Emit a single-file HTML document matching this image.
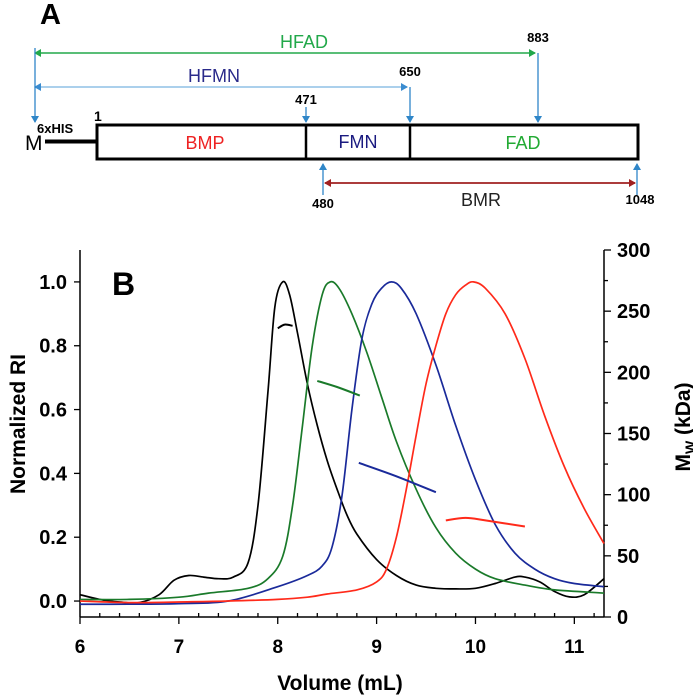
<!DOCTYPE html>
<html><head><meta charset="utf-8"><style>
html,body{margin:0;padding:0;background:#fff;width:693px;height:696px;overflow:hidden}
svg{display:block;font-family:"Liberation Sans",Arial,sans-serif}
</style></head><body>
<svg id="fig" width="693" height="696" viewBox="0 0 693 696">
<defs>
<marker id="ab" markerWidth="8" markerHeight="8" refX="6" refY="4" orient="auto" markerUnits="userSpaceOnUse"><path d="M0,0 L7,4 L0,8 z" fill="#2f86c8"/></marker>
<marker id="ag" markerWidth="8" markerHeight="8" refX="6" refY="4" orient="auto-start-reverse" markerUnits="userSpaceOnUse"><path d="M0,0 L7,4 L0,8 z" fill="#22a84a"/></marker>
<marker id="al" markerWidth="8" markerHeight="8" refX="6" refY="4" orient="auto-start-reverse" markerUnits="userSpaceOnUse"><path d="M0,0 L7,4 L0,8 z" fill="#3a8cd0"/></marker>
<marker id="ar" markerWidth="8" markerHeight="8" refX="6" refY="4" orient="auto-start-reverse" markerUnits="userSpaceOnUse"><path d="M0,0 L7,4 L0,8 z" fill="#a02020"/></marker>
</defs>
<g>
<text x="40" y="24" font-size="29" font-weight="bold">A</text>
<line x1="35" y1="53" x2="535" y2="53" stroke="#22a84a" stroke-width="1.5" marker-start="url(#ag)" marker-end="url(#ag)"/>
<text x="304" y="48" font-size="18" fill="#22a84a" text-anchor="middle">HFAD</text>
<text x="538" y="42" font-size="13" font-weight="bold" text-anchor="middle">883</text>
<line x1="35" y1="87" x2="407" y2="87" stroke="#8fc0e6" stroke-width="1.5" marker-start="url(#al)" marker-end="url(#al)"/>
<text x="214" y="82" font-size="18" fill="#2a2a8a" text-anchor="middle">HFMN</text>
<text x="410" y="76" font-size="13" font-weight="bold" text-anchor="middle">650</text>
<line x1="35" y1="48" x2="35" y2="122" stroke="#2f86c8" stroke-width="1.3" marker-end="url(#ab)"/>
<line x1="538" y1="53" x2="538" y2="122" stroke="#2f86c8" stroke-width="1.3" marker-end="url(#ab)"/>
<line x1="410" y1="87" x2="410" y2="122" stroke="#2f86c8" stroke-width="1.3" marker-end="url(#ab)"/>
<line x1="306" y1="107" x2="306" y2="122" stroke="#2f86c8" stroke-width="1.3" marker-end="url(#ab)"/>
<text x="306" y="104" font-size="13" font-weight="bold" text-anchor="middle">471</text>
<text x="25" y="150" font-size="21">M</text>
<line x1="45" y1="141.5" x2="97" y2="141.5" stroke="#000" stroke-width="4"/>
<text x="37" y="133" font-size="13" font-weight="bold">6xHIS</text>
<text x="94" y="121" font-size="14" font-weight="bold">1</text>
<rect x="97" y="125" width="541" height="34" fill="#fff" stroke="#000" stroke-width="3"/>
<line x1="306" y1="125" x2="306" y2="159" stroke="#000" stroke-width="2.5"/>
<line x1="410" y1="125" x2="410" y2="159" stroke="#000" stroke-width="2.5"/>
<text x="205" y="149" font-size="18" fill="#ee2222" text-anchor="middle">BMP</text>
<text x="358" y="148" font-size="18" fill="#1a1a80" text-anchor="middle">FMN</text>
<text x="523" y="149" font-size="18" fill="#22aa33" text-anchor="middle">FAD</text>
<line x1="323" y1="195" x2="323" y2="164" stroke="#2f86c8" stroke-width="1.3" marker-end="url(#ab)"/>
<line x1="637" y1="195" x2="637" y2="164" stroke="#2f86c8" stroke-width="1.3" marker-end="url(#ab)"/>
<line x1="325" y1="183" x2="635" y2="183" stroke="#a02020" stroke-width="1.8" marker-start="url(#ar)" marker-end="url(#ar)"/>
<text x="323" y="208" font-size="13" font-weight="bold" text-anchor="middle">480</text>
<text x="481" y="206" font-size="18" fill="#222" text-anchor="middle">BMR</text>
<text x="640" y="204" font-size="13" font-weight="bold" text-anchor="middle">1048</text>
</g>
<g id="chart"></g>
</svg>
<script>
const vols = [6,6.2,6.4,6.6,6.8,6.95,7.1,7.25,7.4,7.55,7.7,7.8,7.9,7.97,8.05,8.12,8.2,8.3,8.4,8.5,8.6,8.7,8.8,9.0,9.2,9.4,9.6,9.8,10.0,10.2,10.4,10.5,10.65,10.8,10.95,11.1,11.3];
const blackRI = [0.02,0.005,-0.003,-0.005,0.02,0.065,0.08,0.075,0.07,0.075,0.12,0.3,0.65,0.92,1.0,0.96,0.84,0.68,0.55,0.44,0.35,0.27,0.21,0.13,0.08,0.05,0.04,0.038,0.04,0.055,0.075,0.075,0.06,0.03,0.013,0.02,0.07];
const greenVols = [6,6.5,7,7.3,7.7,7.9,8.05,8.15,8.25,8.35,8.45,8.53,8.62,8.75,8.9,9.05,9.2,9.4,9.6,9.8,10.0,10.2,10.5,10.8,11.3];
const greenRI = [0.005,0.005,0.012,0.025,0.04,0.07,0.14,0.3,0.55,0.8,0.96,1.0,0.98,0.9,0.78,0.64,0.5,0.35,0.23,0.15,0.1,0.07,0.05,0.035,0.025];
const blueVols = [6,6.5,7,7.5,8.0,8.3,8.45,8.55,8.65,8.75,8.85,8.95,9.05,9.15,9.25,9.4,9.6,9.8,10.0,10.2,10.4,10.6,10.8,11.0,11.3];
const blueRI = [-0.01,-0.01,-0.008,0.0,0.045,0.08,0.11,0.17,0.33,0.6,0.82,0.93,0.98,1.0,0.98,0.9,0.74,0.55,0.38,0.24,0.15,0.1,0.07,0.055,0.045];
const redVols = [6,6.5,7,7.5,8.0,8.3,8.5,8.8,9.0,9.1,9.2,9.3,9.4,9.5,9.6,9.7,9.8,9.9,9.98,10.1,10.3,10.5,10.7,10.9,11.1,11.3];
const redRI = [0.0,-0.005,-0.003,0.0,0.005,0.012,0.022,0.035,0.06,0.1,0.2,0.35,0.52,0.68,0.8,0.9,0.96,0.99,1.0,0.98,0.9,0.76,0.58,0.42,0.29,0.18];
const mwBlackV = [8.0,8.07,8.15]; const mwBlack = [236,239,238];
const mwGreenV = [8.4,8.6,8.83]; const mwGreen = [193,188,181];
const mwBlueV = [8.82,9.2,9.6]; const mwBlue = [126,115,102];
const mwRedV = [9.7,9.9,10.1,10.5]; const mwRed = [79,81,79,74];
const xTicks = [6,7,8,9,10,11];
const yTicks = ["0.0","0.2","0.4","0.6","0.8","1.0"];
const y2Ticks = [0,50,100,150,200,250,300];

const NS="http://www.w3.org/2000/svg";
const g=document.getElementById('chart');
const X0=80,X1=604,YT=250,YB=617;
const xs=v=>X0+(v-6)/(11.3-6)*(X1-X0);
const ys=v=>YB-(v+0.05)/1.15*(YB-YT);
const y2=v=>YB-v/300*(YB-YT);
function mk(t,a){const e=document.createElementNS(NS,t);for(const k in a)e.setAttribute(k,a[k]);g.appendChild(e);return e;}
function smooth(pts){let d=`M${pts[0][0]},${pts[0][1]}`;for(let i=0;i<pts.length-1;i++){const p0=pts[Math.max(0,i-1)],p1=pts[i],p2=pts[i+1],p3=pts[Math.min(pts.length-1,i+2)];const c1=[p1[0]+(p2[0]-p0[0])/6,p1[1]+(p2[1]-p0[1])/6],c2=[p2[0]-(p3[0]-p1[0])/6,p2[1]-(p3[1]-p1[1])/6];d+=` C${c1[0].toFixed(1)},${c1[1].toFixed(1)} ${c2[0].toFixed(1)},${c2[1].toFixed(1)} ${p2[0].toFixed(1)},${p2[1].toFixed(1)}`;}return d;}
let e;
e=mk('line',{x1:X0,y1:YT,x2:X0,y2:YB,stroke:'#000','stroke-width':1.5});


e=mk('line',{x1:X1,y1:YT,x2:X1,y2:YB,stroke:'#000','stroke-width':1.5});


e=mk('line',{x1:X0,y1:YB,x2:X1,y2:YB,stroke:'#000','stroke-width':1.5});


for(let v=6;v<=11.3001;v+=0.2){const maj=Math.abs(v-Math.round(v))<1e-6;
e=mk('line',{x1:xs(v),y1:YB,x2:xs(v),y2:maj?YB+7:YB-4,stroke:'#000','stroke-width':1.3});

}
xTicks.forEach(v=>{e=mk('text',{x:xs(v),y:653,'font-size':19,'font-weight':'bold','text-anchor':'middle'});e.textContent=v;

});
yTicks.forEach(s=>{const v=parseFloat(s);
e=mk('line',{x1:X0-6,y1:ys(v),x2:X0,y2:ys(v),stroke:'#000','stroke-width':1.3});


e=mk('text',{x:67,y:ys(v)+7,'font-size':20,'font-weight':'bold','text-anchor':'end'});e.textContent=s;

});
for(let v=0;v<=300;v+=25){e=mk('line',{x1:X1,y1:y2(v),x2:X1+(v%50===0?7:4),y2:y2(v),stroke:'#000','stroke-width':1.3});

}
y2Ticks.forEach(v=>{e=mk('text',{x:617,y:y2(v)+7,'font-size':20,'font-weight':'bold'});e.textContent=v;

});
e=mk('text',{x:340,y:690,'font-size':21,'font-weight':'bold','text-anchor':'middle'});e.textContent='Volume (mL)';


e=mk('text',{x:0,y:0,'font-size':21,'font-weight':'bold','text-anchor':'middle',transform:'translate(25,424) rotate(-90)'});e.textContent='Normalized RI';


e=mk('text',{x:0,y:0,'font-size':21,'font-weight':'bold','text-anchor':'middle',transform:'translate(690,427) rotate(-90)'});
e.innerHTML='M<tspan font-size="14" dy="5">W</tspan><tspan dy="-5"> (kDa)</tspan>';


e=mk('text',{x:112,y:295,'font-size':32,'font-weight':'bold'});e.textContent='B';


const series=[[vols,blackRI,'#000','black'],[greenVols,greenRI,'#1a7a2a','green'],[blueVols,blueRI,'#1a2a9a','blue'],[redVols,redRI,'#ff2a1a','red']];
series.forEach(([vx,vy,c,n])=>{e=mk('path',{d:smooth(vx.map((v,i)=>[xs(v),ys(vy[i])])),fill:'none',stroke:c,'stroke-width':1.7});

});
const mws=[[mwBlackV,mwBlack,'#000','black'],[mwGreenV,mwGreen,'#1a7a2a','green'],[mwBlueV,mwBlue,'#1a2a9a','blue'],[mwRedV,mwRed,'#ff2a1a','red']];
mws.forEach(([vx,vy,c,n])=>{e=mk('path',{d:smooth(vx.map((v,i)=>[xs(v),y2(vy[i])])),fill:'none',stroke:c,'stroke-width':2});

});
</script>
</body></html>
